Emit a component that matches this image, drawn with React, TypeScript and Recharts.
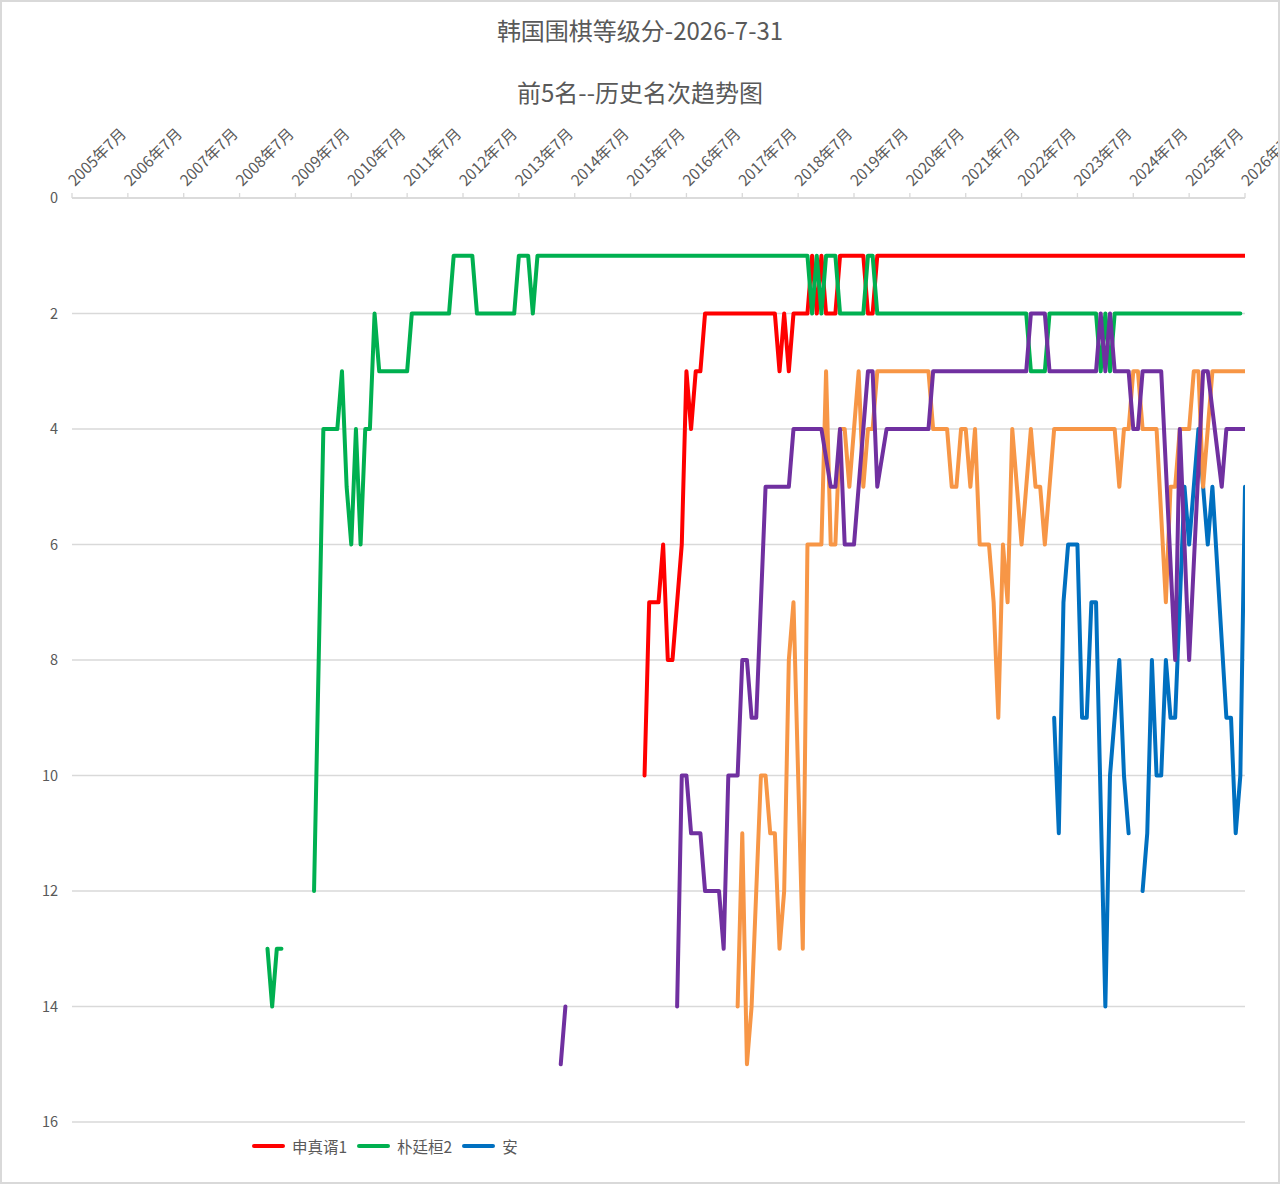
import { LineChart, Line, XAxis, YAxis, CartesianGrid } from "recharts";

type Pt = [number, number | null];

// x = months since 2005年7月 (0 = 2005年7月, 12 = 2006年7月 ...), y = rank
const yearLabels = [
  "2005年7月", "2006年7月", "2007年7月", "2008年7月", "2009年7月", "2010年7月",
  "2011年7月", "2012年7月", "2013年7月", "2014年7月", "2015年7月", "2016年7月",
  "2017年7月", "2018年7月", "2019年7月", "2020年7月", "2021年7月", "2022年7月",
  "2023年7月", "2024年7月", "2025年7月", "2026年7月",
];
const rankTicks = [0, 2, 4, 6, 8, 10, 12, 14, 16];

const shinJinseo: Pt[] = [
  [123, 10], [124, 7], [126, 7], [127, 6], [128, 8], [129, 8], [131, 6], [132, 3],
  [133, 4], [134, 3], [135, 3], [136, 2], [151, 2], [152, 3], [153, 2], [154, 3],
  [155, 2], [158, 2], [159, 1], [160, 2], [161, 1], [162, 2], [164, 2], [165, 1],
  [170, 1], [171, 2], [172, 2], [173, 1], [252, 1],
];

const parkJunghwan: Pt[] = [
  [42, 13], [43, 14], [44, 13], [45, 13], [48, null],
  [52, 12], [54, 4], [57, 4], [58, 3], [59, 5], [60, 6], [61, 4], [62, 6], [63, 4],
  [64, 4], [65, 2], [66, 3], [72, 3], [73, 2], [81, 2], [82, 1], [86, 1], [87, 2],
  [95, 2], [96, 1], [98, 1], [99, 2], [100, 1], [158, 1], [159, 2], [160, 1],
  [161, 2], [162, 1], [164, 1], [165, 2], [170, 2], [171, 1], [172, 1], [173, 2],
  [205, 2], [206, 3], [209, 3], [210, 2], [220, 2], [221, 3], [222, 2], [223, 3],
  [224, 2], [251, 2],
];

const anSeries: Pt[] = [
  [211, 9], [212, 11], [213, 7], [214, 6], [216, 6], [217, 9], [218, 9], [219, 7],
  [220, 7], [222, 14], [223, 10], [225, 8], [226, 10], [227, 11], [228, null],
  [230, 12], [231, 11], [232, 8], [233, 10], [234, 10], [235, 8], [236, 9], [237, 9],
  [239, 5], [240, 6], [242, 4], [244, 6], [245, 5], [248, 9], [249, 9], [250, 11],
  [251, 10], [252, 5],
];

const orangeSeries: Pt[] = [
  [143, 14], [144, 11], [145, 15], [146, 14], [148, 10], [149, 10], [150, 11],
  [151, 11], [152, 13], [153, 12], [154, 8], [155, 7], [157, 13], [158, 6], [161, 6],
  [162, 3], [163, 6], [164, 6], [165, 4], [166, 4], [167, 5], [169, 3], [170, 5],
  [171, 4], [172, 4], [173, 3], [184, 3], [185, 4], [188, 4], [189, 5], [190, 5],
  [191, 4], [192, 4], [193, 5], [194, 4], [195, 6], [196, 6], [197, 6], [198, 7],
  [199, 9], [200, 6], [201, 7], [202, 4], [204, 6], [206, 4], [207, 5], [208, 5],
  [209, 6], [211, 4], [224, 4], [225, 5], [226, 4], [227, 4], [228, 3], [229, 3],
  [230, 4], [233, 4], [235, 7], [236, 5], [237, 5], [238, 4], [240, 4], [241, 3],
  [242, 3], [243, 5], [244, 4], [245, 3], [252, 3],
];

const purpleSeries: Pt[] = [
  [105, 15], [106, 14], [107, null],
  [130, 14], [131, 10], [132, 10], [133, 11], [135, 11], [136, 12], [139, 12],
  [140, 13], [141, 10], [143, 10], [144, 8], [145, 8], [146, 9], [147, 9], [149, 5],
  [154, 5], [155, 4], [161, 4], [163, 5], [164, 5], [165, 4], [166, 6], [168, 6],
  [171, 3], [172, 3], [173, 5], [175, 4], [184, 4], [185, 3], [205, 3], [206, 2],
  [209, 2], [210, 3], [220, 3], [221, 2], [222, 3], [223, 2], [224, 3], [227, 3],
  [228, 4], [229, 4], [230, 3], [234, 3], [237, 8], [238, 4], [240, 8], [243, 3],
  [244, 3], [247, 5], [248, 4], [252, 4],
];

const series = [
  { key: "shin", name: "申真谞1", color: "#ff0000", pts: shinJinseo },
  { key: "park", name: "朴廷桓2", color: "#00b050", pts: parkJunghwan },
  { key: "an", name: "安", color: "#0070c0", pts: anSeries },
  { key: "s4", name: "", color: "#f79646", pts: orangeSeries },
  { key: "s5", name: "", color: "#7030a0", pts: purpleSeries },
];

const FONT = '"Noto Sans CJK SC", "Noto Sans", sans-serif';
const TEXT = "#595959";

const toRows = (pts: Pt[]) => pts.map(([m, v]) => ({ m, v }));

function TopTick(props: any) {
  const { x, y, payload } = props;
  const label = yearLabels[Math.round(payload.value / 12)];
  const tx = x + 3;
  const ty = y - 4;
  return (
    <text
      x={tx}
      y={ty}
      transform={`rotate(-45 ${tx} ${ty})`}
      textAnchor="start"
      fill={TEXT}
      fontSize={15.5}
      fontFamily={FONT}
    >
      {label}
    </text>
  );
}

const titleStyle = {
  position: "absolute" as const,
  width: 1280,
  textAlign: "center" as const,
  fontFamily: FONT,
  fontSize: 24,
  color: TEXT,
};

export default function App() {
  return (
    <div style={{ position: "relative", width: 1280, height: 1184, background: "#fff" }}>
      <style>{"body{margin:0}"}</style>
      <div style={{ ...titleStyle, top: 12 }}>韩国围棋等级分-2026-7-31</div>
      <div style={{ ...titleStyle, top: 74 }}>前5名--历史名次趋势图</div>
      <div style={{ position: "absolute", left: 0, top: 0 }}>
        <LineChart
          width={1280}
          height={1184}
          margin={{ top: 168, right: 35, bottom: 62, left: 30 }}
        >
          <CartesianGrid vertical={false} stroke="#d9d9d9" strokeWidth={1.3} />
          <XAxis
            dataKey="m"
            type="number"
            orientation="top"
            domain={[0, 252]}
            ticks={yearLabels.map((_, i) => i * 12)}
            interval={0}
            height={30}
            tickSize={5}
            tickMargin={2}
            axisLine={{ stroke: "#d9d9d9", strokeWidth: 1.3 }}
            tickLine={{ stroke: "#d9d9d9", strokeWidth: 1.3 }}
            tick={<TopTick />}
            allowDataOverflow
          />
          <YAxis
            type="number"
            domain={[0, 16]}
            reversed
            ticks={rankTicks}
            interval={0}
            width={42}
            axisLine={false}
            tickLine={false}
            tickSize={0}
            tickMargin={14}
            tick={{ fill: TEXT, fontSize: 14.5, fontFamily: FONT }}
          />
          {series.map((s) => (
            <Line
              key={s.key}
              data={toRows(s.pts)}
              dataKey="v"
              name={s.name}
              type="linear"
              stroke={s.color}
              strokeWidth={4}
              strokeLinejoin="round"
              strokeLinecap="round"
              dot={false}
              activeDot={false}
              isAnimationActive={false}
            />
          ))}
        </LineChart>
      </div>
      <div
        style={{
          position: "absolute",
          left: 252,
          top: 1135,
          display: "flex",
          alignItems: "center",
          fontFamily: FONT,
          fontSize: 15.5,
          color: TEXT,
        }}
      >
        {series.slice(0, 3).map((s) => (
          <div key={s.key} style={{ display: "flex", alignItems: "center", marginRight: 10 }}>
            <div
              style={{
                width: 33,
                height: 4,
                borderRadius: 2,
                background: s.color,
                marginRight: 7,
              }}
            />
            <span>{s.name}</span>
          </div>
        ))}
      </div>
      <div
        style={{
          position: "absolute",
          left: 0,
          top: 0,
          width: 1280,
          height: 1184,
          boxSizing: "border-box",
          border: "2px solid #d9d9d9",
          pointerEvents: "none",
        }}
      />
    </div>
  );
}
